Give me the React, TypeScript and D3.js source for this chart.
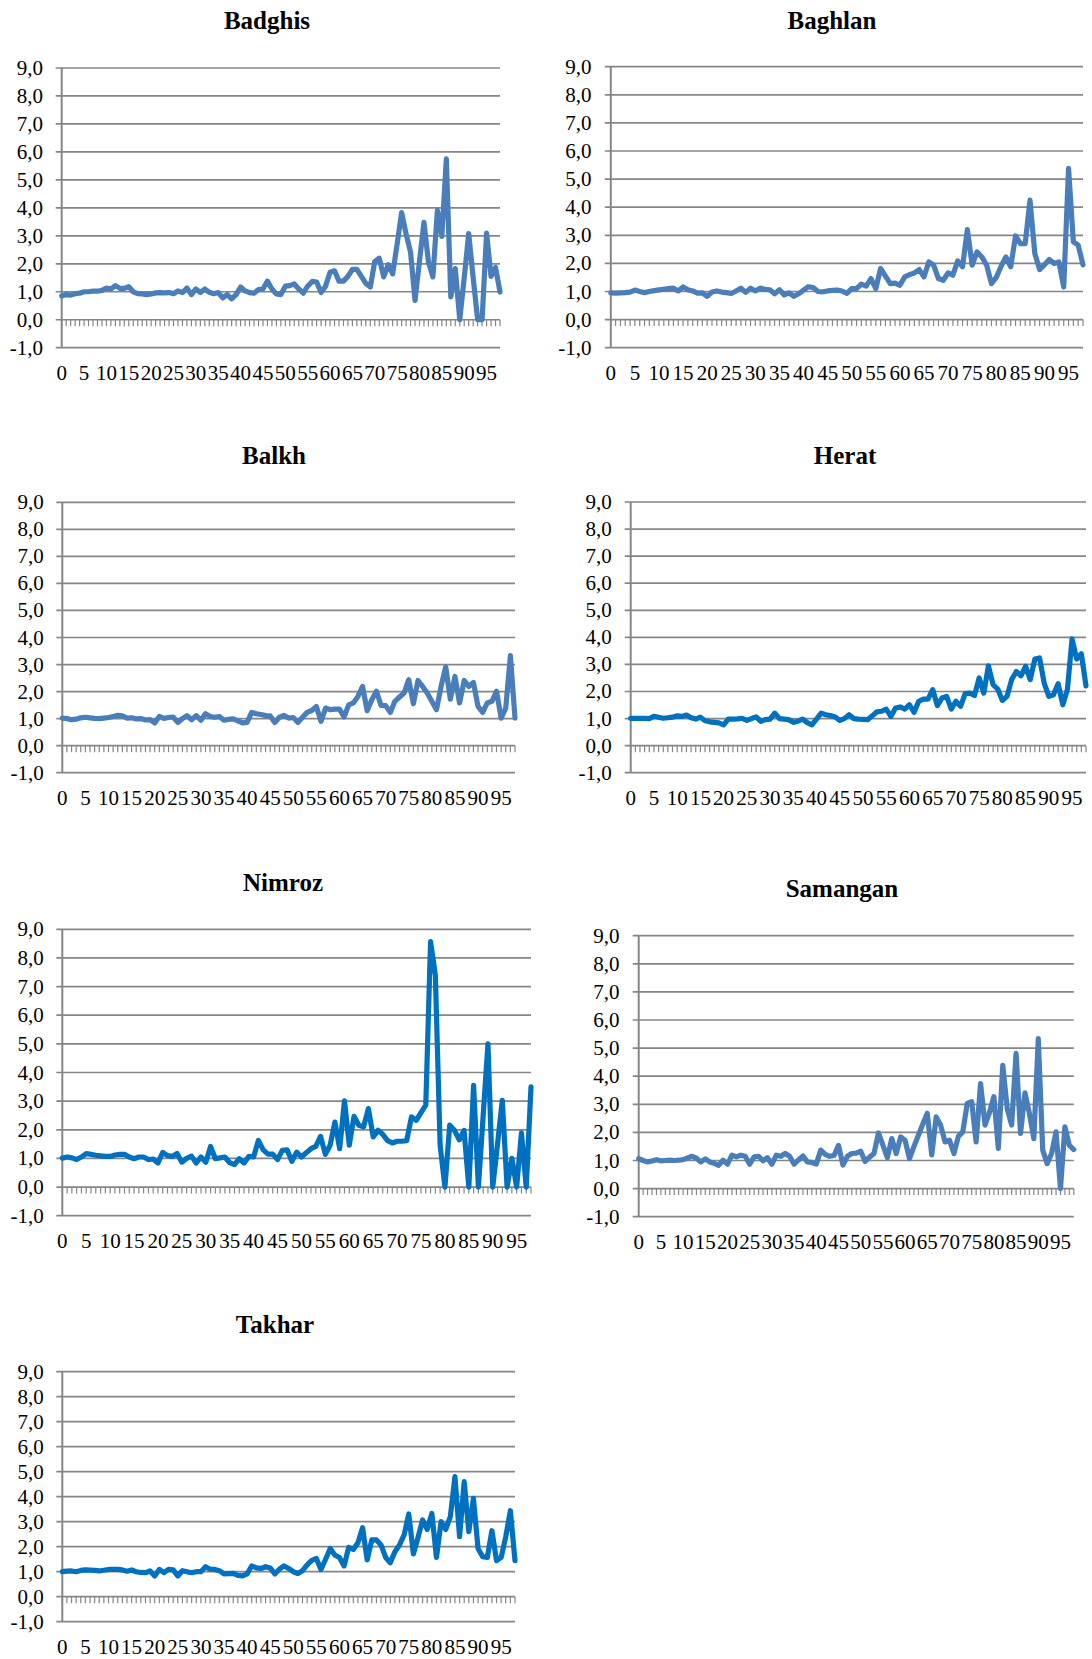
import React from "react";
import * as d3 from "d3";

// ---- data ----
const categories = d3.range(99); // 0..98
const xTickLabels = d3.range(0, 96, 5);
const yTicks = d3.range(-1, 10, 1);

const badghis = [
  0.85, 0.9, 0.88, 0.93, 0.95, 1.0, 1.0, 1.02, 1.02, 1.05,
  1.13, 1.1, 1.22, 1.12, 1.12, 1.18, 1.0, 0.93, 0.92, 0.9,
  0.92, 0.96, 0.97, 0.96, 0.97, 0.93, 1.03, 0.97, 1.13, 0.9,
  1.1, 0.97, 1.1, 0.98, 0.93, 0.97, 0.78, 0.9, 0.75, 0.9,
  1.17, 1.03, 0.97, 0.95, 1.08, 1.1, 1.38, 1.1, 0.92, 0.9,
  1.2, 1.22, 1.28, 1.1, 0.95, 1.2, 1.37, 1.35, 0.97, 1.2,
  1.7, 1.75, 1.38, 1.38, 1.55, 1.8, 1.8, 1.55, 1.3, 1.17,
  2.08, 2.2, 1.53, 1.97, 1.64, 2.7, 3.83, 3.07, 2.42, 0.69,
  2.1, 3.48, 2.06, 1.53, 3.91, 2.98, 5.75, 0.82, 1.83, 0.0,
  1.5, 3.08, 1.5, 0.0, 0.0, 3.1, 1.55, 1.87, 0.99,
];

const baghlan = [
  0.95, 0.94, 0.95, 0.96, 0.98, 1.05, 1.0, 0.96, 1.0, 1.03,
  1.06, 1.08, 1.1, 1.12, 1.02, 1.16, 1.06, 1.02, 0.94, 0.95,
  0.83, 0.98, 1.02, 0.98, 0.96, 0.93, 1.02, 1.12, 0.97, 1.12,
  1.02, 1.12, 1.08, 1.06, 0.92, 1.06, 0.88, 0.95, 0.83, 0.92,
  1.05, 1.17, 1.14, 1.0, 0.99, 1.02, 1.04, 1.05, 1.02, 0.93,
  1.1, 1.1, 1.26, 1.19, 1.46, 1.1, 1.82, 1.55, 1.28, 1.3,
  1.22, 1.52, 1.6, 1.66, 1.78, 1.52, 2.05, 1.94, 1.46, 1.4,
  1.66, 1.58, 2.09, 1.88, 3.2, 1.94, 2.41, 2.23, 1.94, 1.28,
  1.5, 1.9, 2.23, 1.88, 2.98, 2.7, 2.7, 4.25, 2.35, 1.78,
  1.95, 2.14, 2.0, 2.05, 1.16, 5.38, 2.77, 2.65, 1.95,
];

const balkh = [
  1.02, 1.0, 0.96, 0.98, 1.03, 1.05, 1.03, 1.01, 1.0, 1.02,
  1.04, 1.08, 1.12, 1.1, 1.02, 1.03, 0.99, 1.0, 0.95, 0.96,
  0.84, 1.08, 1.01, 1.04, 1.06, 0.86, 1.0, 1.11, 0.96, 1.11,
  0.94, 1.18, 1.08, 1.05, 1.08, 0.94, 0.97, 0.99, 0.92, 0.84,
  0.86, 1.23, 1.18, 1.15, 1.11, 1.1, 0.86, 1.05, 1.12, 1.02,
  1.04, 0.86, 1.05, 1.23, 1.3, 1.45, 0.9, 1.39, 1.33, 1.35,
  1.35, 1.06, 1.51, 1.58, 1.82, 2.19, 1.29, 1.7, 2.01, 1.49,
  1.48, 1.23, 1.64, 1.8, 1.95, 2.44, 1.55, 2.41, 2.19, 1.95,
  1.64, 1.33, 2.19, 2.91, 1.72, 2.56, 1.58, 2.41, 2.19, 2.34,
  1.45, 1.23, 1.58, 1.64, 2.01, 1.02, 1.39, 3.33, 1.02,
];

const herat = [
  1.01, 1.01, 1.01, 1.01, 1.0, 1.08, 1.05, 1.01, 1.03, 1.05,
  1.1, 1.08, 1.13, 1.03, 0.98, 1.05, 0.92, 0.88, 0.86, 0.84,
  0.77, 0.98, 0.98, 0.99, 1.01, 0.93, 1.0, 1.06, 0.9, 0.96,
  0.98, 1.2, 1.0, 0.98, 0.96, 0.86, 0.9, 0.98, 0.85, 0.77,
  0.98, 1.2, 1.14, 1.11, 1.06, 0.93, 1.0, 1.14, 1.0, 0.98,
  0.97, 0.96, 1.1, 1.25, 1.27, 1.35, 1.08, 1.39, 1.43, 1.35,
  1.51, 1.23, 1.64, 1.72, 1.72, 2.07, 1.48, 1.76, 1.82, 1.35,
  1.64, 1.45, 1.92, 1.94, 1.85, 2.5, 1.94, 2.95, 2.25, 2.09,
  1.67, 1.82, 2.44, 2.74, 2.58, 2.93, 2.44, 3.2, 3.24, 2.31,
  1.82, 1.88, 2.29, 1.51, 2.07, 3.94, 3.2, 3.39, 2.21,
];

const nimroz = [
  1.01, 1.05, 1.02, 0.96, 1.05, 1.17, 1.14, 1.11, 1.09, 1.07,
  1.07, 1.12, 1.14, 1.14, 1.05, 0.99, 1.05, 1.05, 0.96, 0.98,
  0.84, 1.21, 1.1, 1.07, 1.17, 0.87, 1.0, 1.08, 0.84, 1.05,
  0.87, 1.42, 0.99, 1.02, 1.05, 0.85, 0.78, 0.99, 0.84, 1.07,
  1.05, 1.63, 1.3, 1.15, 1.15, 0.96, 1.28, 1.3, 0.9, 1.22,
  1.05, 1.2, 1.34, 1.42, 1.77, 1.14, 1.46, 2.27, 1.34, 3.01,
  1.46, 2.47, 2.16, 2.1, 2.74, 1.75, 1.98, 1.84, 1.62, 1.54,
  1.6, 1.6, 1.62, 2.45, 2.33, 2.6, 2.86, 8.57, 7.4, 1.46,
  0.0, 2.16, 1.98, 1.65, 1.98, 0.0, 3.55, 0.0, 2.5, 5.0,
  0.0, 1.5, 3.03, 0.0, 1.0, 0.0, 1.89, 0.0, 3.5,
];

const samangan = [
  1.07, 1.0, 0.95, 0.98, 1.03, 0.99, 1.0, 1.01, 1.0, 1.01,
  1.03, 1.09, 1.15, 1.08, 0.95, 1.06, 0.95, 0.9, 0.83, 1.01,
  0.87, 1.19, 1.13, 1.19, 1.15, 0.87, 1.13, 1.15, 0.99, 1.1,
  0.87, 1.19, 1.15, 1.25, 1.15, 0.87, 1.02, 1.16, 0.95, 0.93,
  0.87, 1.37, 1.22, 1.15, 1.18, 1.54, 0.84, 1.15, 1.25, 1.26,
  1.33, 0.97, 1.12, 1.25, 1.98, 1.55, 1.1, 1.78, 1.25, 1.84,
  1.72, 1.07, 1.5, 1.9, 2.3, 2.68, 1.2, 2.55, 2.26, 1.66,
  1.72, 1.25, 1.86, 2.02, 3.03, 3.09, 1.66, 3.74, 2.26, 2.7,
  3.27, 1.43, 4.39, 2.85, 2.26, 4.81, 1.96, 3.41, 2.67, 1.78,
  5.34, 1.37, 0.89, 1.25, 2.02, 0.0, 2.2, 1.54, 1.39,
];

const takhar = [
  1.0, 1.02, 1.03, 1.0, 1.05, 1.07, 1.06, 1.05, 1.03, 1.06,
  1.09, 1.09, 1.09, 1.07, 1.02, 1.07, 1.0, 0.97, 0.96, 1.03,
  0.83, 1.09, 0.96, 1.09, 1.07, 0.83, 1.04, 1.0, 0.96, 1.0,
  1.0, 1.2, 1.1, 1.09, 1.04, 0.91, 0.92, 0.93, 0.85, 0.83,
  0.91, 1.23, 1.15, 1.13, 1.2, 1.15, 0.91, 1.1, 1.23, 1.13,
  1.0, 0.93, 1.04, 1.27, 1.45, 1.53, 1.09, 1.5, 1.93, 1.67,
  1.57, 1.23, 1.97, 1.89, 2.16, 2.76, 1.47, 2.27, 2.27, 2.07,
  1.57, 1.36, 1.8, 2.07, 2.47, 3.31, 1.71, 2.37, 3.07, 2.69,
  3.33, 1.57, 3.0, 2.69, 3.2, 4.8, 2.4, 4.6, 2.6, 3.93,
  1.93, 1.6, 1.57, 2.64, 1.44, 1.57, 2.4, 3.44, 1.44,
];

const LIGHT_BLUE = "#4a7ebb";
const DARK_BLUE = "#0070c0";
const GRID = "#868686";
const FONT = "'Liberation Serif', 'Times New Roman', serif";

type Panel = {
  title: string;
  values: number[];
  color: string;
  left: number;
  right: number;
  top: number;
  bottom: number;
  labelRight: number;
  titleX: number;
  titleY: number;
};

const panels: Panel[] = [
  { title: "Badghis", values: badghis, color: LIGHT_BLUE, left: 61.7, right: 500, top: 68, bottom: 347.7, labelRight: 43, titleX: 267, titleY: 29 },
  { title: "Baghlan", values: baghlan, color: LIGHT_BLUE, left: 610.8, right: 1083, top: 66.7, bottom: 347.7, labelRight: 591.5, titleX: 832, titleY: 28.5 },
  { title: "Balkh", values: balkh, color: LIGHT_BLUE, left: 62.3, right: 515, top: 502.3, bottom: 772.7, labelRight: 43.7, titleX: 274, titleY: 464 },
  { title: "Herat", values: herat, color: DARK_BLUE, left: 630.7, right: 1086, top: 502, bottom: 772.7, labelRight: 611.8, titleX: 845, titleY: 464 },
  { title: "Nimroz", values: nimroz, color: DARK_BLUE, left: 62.3, right: 531, top: 929.3, bottom: 1215.7, labelRight: 43.7, titleX: 283, titleY: 891 },
  { title: "Samangan", values: samangan, color: LIGHT_BLUE, left: 638.7, right: 1073.8, top: 935.7, bottom: 1216.7, labelRight: 619.5, titleX: 842, titleY: 896.7 },
  { title: "Takhar", values: takhar, color: DARK_BLUE, left: 62.3, right: 515, top: 1371.7, bottom: 1621.7, labelRight: 43.7, titleX: 275, titleY: 1332.7 },
];

const fmt = (v: number) => v.toFixed(1).replace(".", ",");

function PanelChart({ p }: { p: Panel }) {
  const x = d3.scaleLinear().domain([0, categories.length - 1]).range([p.left, p.right]);
  const y = d3.scaleLinear().domain([-1, 9]).range([p.bottom, p.top]);
  const line = d3
    .line<number>()
    .x((_, i) => x(categories[i]))
    .y((d) => y(d));
  const y0 = y(0);
  return (
    <g>
      <text x={p.titleX} y={p.titleY} textAnchor="middle" fontFamily={FONT} fontWeight="bold" fontSize={25} fill="#000">
        {p.title}
      </text>
      {yTicks.map((t) => (
        <g key={t}>
          <line x1={p.left - 6} x2={p.right} y1={y(t)} y2={y(t)} stroke={GRID} strokeWidth={1.7} />
          <text x={p.labelRight} y={y(t) + 7} textAnchor="end" fontFamily={FONT} fontSize={21} fill="#000">
            {fmt(t)}
          </text>
        </g>
      ))}
      <line x1={p.left} x2={p.left} y1={p.top} y2={p.bottom} stroke={GRID} strokeWidth={2} />
      {categories.map((c) => (
        <line key={c} x1={x(c)} x2={x(c)} y1={y0} y2={y0 + 6.5} stroke={GRID} strokeWidth={1.2} />
      ))}
      {xTickLabels.map((c) => (
        <text key={c} x={x(c)} y={p.bottom + 32} textAnchor="middle" fontFamily={FONT} fontSize={21} fill="#000">
          {c}
        </text>
      ))}
      <path d={line(p.values) || ""} fill="none" stroke={p.color} strokeWidth={5.2} strokeLinejoin="round" strokeLinecap="round" />
    </g>
  );
}

export default function App() {
  return (
    <svg
      width={1092}
      height={1659}
      viewBox="0 0 1092 1659"
      style={{ position: "absolute", left: 0, top: 0, background: "#fff" }}
    >
      <rect x={0} y={0} width={1092} height={1659} fill="#fff" />
      {panels.map((p) => (
        <PanelChart key={p.title} p={p} />
      ))}
    </svg>
  );
}
